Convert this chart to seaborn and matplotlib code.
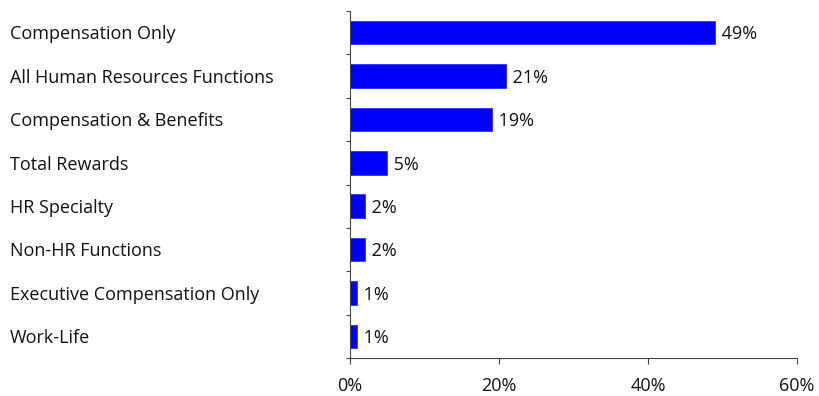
import matplotlib
matplotlib.use("Agg")
import matplotlib.pyplot as plt
import matplotlib.transforms as mtransforms
import seaborn as sns
import pandas as pd
import numpy as np

categories = [
    "Compensation Only",
    "All Human Resources Functions",
    "Compensation & Benefits",
    "Total Rewards",
    "HR Specialty",
    "Non-HR Functions",
    "Executive Compensation Only",
    "Work-Life",
]
values = [49, 21, 19, 5, 2, 2, 1, 1]
x_ticks = [0, 20, 40, 60]
x_tick_labels = ["0%", "20%", "40%", "60%"]

sns.set_theme(style="white")
plt.rcParams["font.family"] = ["Open Sans", "DejaVu Sans"]

W, H = 820, 396
FS = 13
fig = plt.figure(figsize=(W / 100, H / 100), dpi=100)
ax = fig.add_axes([350 / W, 1 - 358 / H, (797 - 350) / W, (358 - 11) / H])

df = pd.DataFrame({"category": categories, "value": values})
sns.barplot(data=df, y="category", x="value", orient="h", color="#0000FF",
            saturation=1, width=0.54, edgecolor="#3030FF", linewidth=0.6, ax=ax)

ax.set_xlim(0, 60)
ax.set_ylim(len(categories) - 0.5, -0.5)
ax.set_xticks(x_ticks)
ax.set_xticklabels(x_tick_labels, fontsize=FS, color="#111111")
ax.set_xlabel("")
ax.set_ylabel("")

# category labels, left-aligned near the figure edge
ax.set_yticks(np.arange(len(categories) + 1) - 0.5)
ax.set_yticklabels([])
trans = mtransforms.blended_transform_factory(fig.transFigure, ax.transData)
for i, cat in enumerate(categories):
    ax.text(10 / W, i + 0.04, cat, transform=trans, ha="left", va="center",
            fontsize=FS, color="#111111")

# value labels at bar ends
offset = mtransforms.ScaledTranslation(2 / 100, 0, fig.dpi_scale_trans)
for i, v in enumerate(values):
    ax.text(v, i + 0.04, f" {v}%", ha="left", va="center", fontsize=FS,
            color="#111111", transform=ax.transData + offset)

for side in ["top", "right"]:
    ax.spines[side].set_visible(False)
for side in ["left", "bottom"]:
    ax.spines[side].set_color("#444444")
    ax.spines[side].set_linewidth(0.8)
ax.tick_params(axis="x", direction="out", length=4, width=0.8, color="#444444", pad=10, bottom=True)
ax.tick_params(axis="y", direction="out", length=3, width=0.8, color="#444444", left=True)

fig.savefig("out.png", dpi=100)
